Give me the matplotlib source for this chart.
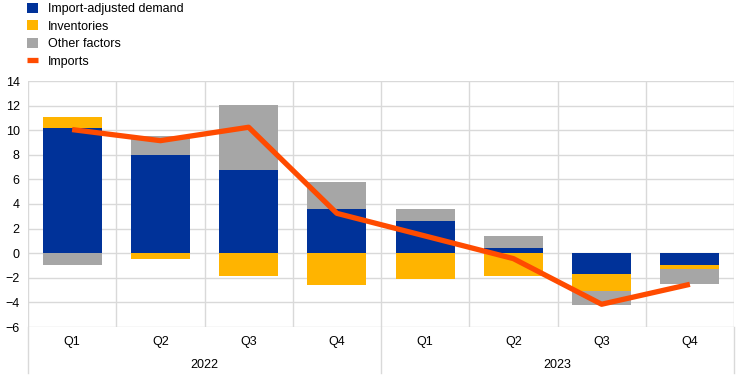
import matplotlib.pyplot as plt
import numpy as np

plt.rcParams['font.family'] = ['Liberation Sans', 'DejaVu Sans']

quarters = ['Q1', 'Q2', 'Q3', 'Q4', 'Q1', 'Q2', 'Q3', 'Q4']
years = ['2022', '2023']
demand = [10.2, 8.0, 6.78, 3.6, 2.61, 0.41, -1.72, -0.98]
inventories = [0.9, -0.49, -1.88, -2.61, -2.12, -1.88, -1.38, -0.33]
other = [-0.95, 1.5, 5.3, 2.17, 1.0, 0.98, -1.09, -1.22]
imports = [10.05, 9.15, 10.24, 3.24, 1.4, -0.44, -4.15, -2.53]

blue = '#003299'
yellow = '#FFB400'
grey = '#A6A6A6'
orange = '#FF4B00'
gridc = '#D9D9D9'

fig = plt.figure(figsize=(7.44, 3.78), dpi=100)
ax = fig.add_axes([28 / 744, 51 / 378, 706 / 744, 246 / 378])

x = np.arange(len(quarters))
width = 0.67

pos = np.zeros(len(x))
neg = np.zeros(len(x))
handles = []
for vals, col, lab in [(demand, blue, 'Import-adjusted demand'),
                       (inventories, yellow, 'Inventories'),
                       (other, grey, 'Other factors')]:
    vals = np.array(vals)
    bottoms = np.where(vals >= 0, pos, neg)
    b = ax.bar(x, vals, width, bottom=bottoms, color=col, label=lab, zorder=2, linewidth=0)
    handles.append(b)
    pos = pos + np.where(vals >= 0, vals, 0)
    neg = neg + np.where(vals < 0, vals, 0)

line, = ax.plot(x, imports, color=orange, lw=3.8, label='Imports', zorder=3, solid_capstyle='butt')
handles.append(line)

ax.set_xlim(-0.5, 7.5)
ax.set_ylim(-6, 14)
ax.set_yticks(np.arange(-6, 15, 2))
for y in np.arange(-6, 15, 2):
    ax.axhline(y, color=gridc, lw=1, zorder=1)
for xv in np.arange(-0.5, 8, 1):
    ax.axvline(xv, color=gridc, lw=1, zorder=1)
for s in ax.spines.values():
    s.set_visible(False)
ax.tick_params(axis='y', length=0, labelsize=9, pad=6)
ax.set_xticks([])

# category labels below the axis
trans = ax.get_xaxis_transform()
for i, q in enumerate(quarters):
    ax.annotate(q, (i, 0), xycoords=trans, xytext=(0, -10.5), textcoords='offset points',
                ha='center', va='center', fontsize=9)
for j, yr in enumerate(years):
    ax.annotate(yr, (j * 4 + 1.5, 0), xycoords=trans, xytext=(0, -27.5), textcoords='offset points',
                ha='center', va='center', fontsize=9)
for xv in [-0.5, 3.5, 7.5]:
    ax.plot([xv, xv], [0, -46 / 246], transform=trans, color=gridc, lw=1, clip_on=False, zorder=1)

fig.legend(handles=handles, loc='upper left', bbox_to_anchor=(26 / 744, 0.995), frameon=False, fontsize=9,
           handlelength=0.9, handleheight=0.9, handletextpad=0.8, labelspacing=0.4,
           borderaxespad=0.0, borderpad=0.05)

fig.savefig('out.png', dpi=100)
